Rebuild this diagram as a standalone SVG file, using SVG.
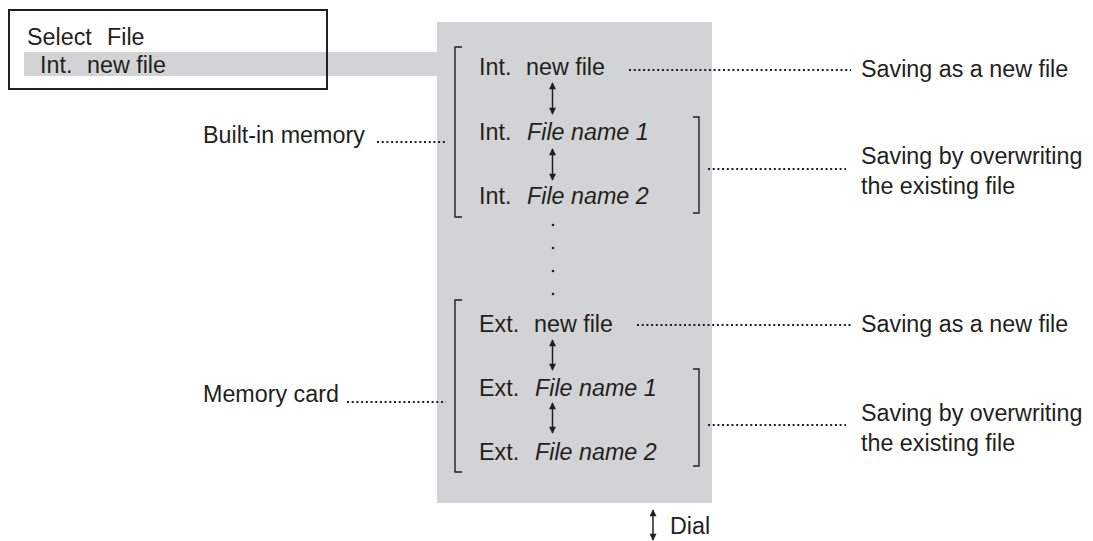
<svg xmlns="http://www.w3.org/2000/svg" width="1093" height="541" viewBox="0 0 1093 541">
<style>
text{font-family:"Liberation Sans",Arial,Helvetica,sans-serif;font-size:23.3px;fill:#231f20}
.it{font-style:italic}
.dot{stroke:#231f20;stroke-width:2;stroke-dasharray:2 2.7;fill:none}
.br{stroke:#231f20;stroke-width:1.4;fill:none}
.ar{stroke:#231f20;stroke-width:1.5;fill:none;marker-start:url(#ah);marker-end:url(#ah)}
</style>
<defs>
<marker id="ah" viewBox="0 0 10 10" refX="9" refY="5" markerWidth="9" markerHeight="7" markerUnits="userSpaceOnUse" orient="auto-start-reverse">
<path d="M0,0 L10,5 L0,10 z" fill="#231f20"/>
</marker>
</defs>
<rect width="1093" height="541" fill="#ffffff"/>
<g id="panel">
<rect x="437" y="22" width="275" height="481" fill="#d1d3d4"/>
</g>
<g id="select-file">
<rect x="24" y="52" width="414" height="24" fill="#d1d3d4"/>
<rect x="9" y="10" width="318" height="79" fill="none" stroke="#231f20" stroke-width="2"/>
<text x="27" y="45">Select<tspan x="107">File</tspan></text>
<text x="40" y="73">Int.<tspan x="87">new file</tspan></text>
</g>
<g id="int-group">
<path class="br" d="M462,47 H455 V217 H462"/>
<path class="br" d="M693,117 H699 V213 H693"/>
<text x="479" y="75">Int.<tspan x="526">new file</tspan></text>
<text x="479" y="140">Int.<tspan x="527" class="it">File name 1</tspan></text>
<text x="479" y="204">Int.<tspan x="527" class="it">File name 2</tspan></text>
</g>
<g id="ellipsis">
<circle cx="553" cy="225" r="1.3" fill="#231f20"/>
<circle cx="553" cy="248" r="1.3" fill="#231f20"/>
<circle cx="553" cy="271" r="1.3" fill="#231f20"/>
<circle cx="553" cy="294" r="1.3" fill="#231f20"/>
</g>
<g id="ext-group">
<path class="br" d="M462,300 H455 V472 H462"/>
<path class="br" d="M693,369 H699 V466 H693"/>
<text x="479" y="331.5">Ext.<tspan x="534">new file</tspan></text>
<text x="479" y="396">Ext.<tspan x="535" class="it">File name 1</tspan></text>
<text x="479" y="460">Ext.<tspan x="535" class="it">File name 2</tspan></text>
</g>
<g id="labels-left">
<text x="203" y="143">Built-in memory</text>
<text x="203" y="402">Memory card</text>
</g>
<g id="labels-right">
<text x="861" y="77">Saving as a new file</text>
<text x="861" y="164">Saving by overwriting</text>
<text x="861" y="194">the existing file</text>
<text x="861" y="332">Saving as a new file</text>
<text x="861" y="421">Saving by overwriting</text>
<text x="861" y="451">the existing file</text>
</g>
<g id="dial-legend">
<text x="670" y="534">Dial</text>
</g>
<g id="connectors">
<path class="dot" d="M377,142 H446"/>
<path class="dot" d="M347,402 H446"/>
<path class="dot" d="M629,70 H851"/>
<path class="dot" d="M708,169 H846"/>
<path class="dot" d="M637,325 H851"/>
<path class="dot" d="M708,425 H846"/>
<path class="ar" d="M552.5,83 V114"/>
<path class="ar" d="M552.5,149 V180"/>
<path class="ar" d="M552.5,340 V370"/>
<path class="ar" d="M552.5,403 V433"/>
<path class="ar" d="M653,510 V540"/>
</g>
</svg>
